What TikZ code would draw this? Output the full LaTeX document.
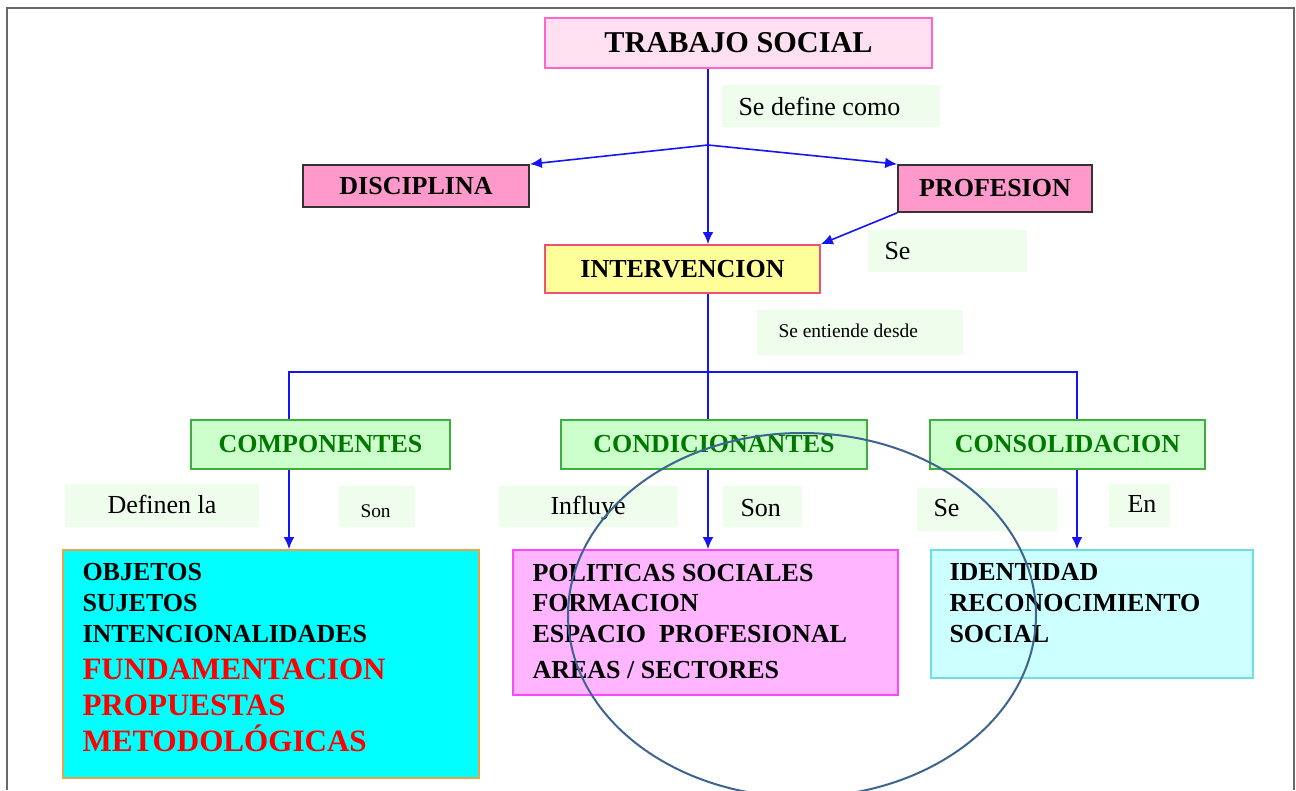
\documentclass[tikz,border=0pt]{standalone}
\usepackage{fontspec}
\setmainfont{Liberation Serif}
\usetikzlibrary{arrows.meta}

\definecolor{azul}{RGB}{20,20,245}
\definecolor{marcogris}{RGB}{105,105,105}
\definecolor{etiqfondo}{RGB}{238,253,236}
\definecolor{rosaclaro}{RGB}{255,224,240}
\definecolor{rosaborde}{RGB}{255,102,204}
\definecolor{rosa}{RGB}{255,153,204}
\definecolor{amarillo}{RGB}{255,255,153}
\definecolor{rojizo}{RGB}{240,80,120}
\definecolor{verdeclaro}{RGB}{204,255,204}
\definecolor{verdeborde}{RGB}{60,175,60}
\definecolor{verdetexto}{RGB}{0,120,0}
\definecolor{turquesa}{RGB}{0,255,255}
\definecolor{naranja}{RGB}{230,165,70}
\definecolor{magenta}{RGB}{255,181,255}
\definecolor{magentaborde}{RGB}{255,70,255}
\definecolor{celeste}{RGB}{204,255,255}
\definecolor{celesteborde}{RGB}{110,222,222}
\definecolor{rojotexto}{RGB}{255,0,0}
\definecolor{elipse}{RGB}{61,99,145}

\tikzset{every picture/.style={line width=0.75pt}}

\begin{document}
\begin{tikzpicture}[x=0.75pt,y=0.75pt,yscale=-1,xscale=1,
    caja/.style={inner sep=0.75pt, line width=1.3pt, font=\fontsize{19.5}{23}\selectfont\bfseries},
    lista/.style={anchor=base west, inner sep=0.75pt, align=left, font=\fontsize{19.5}{22.9}\selectfont\bfseries},
    etiq/.style={anchor=west, inner sep=0.75pt, font=\fontsize{19.5}{23}\selectfont},
    flecha/.style={draw=azul, line width=1.2pt, -{Latex[length=9pt,width=8pt]}},
    linea/.style={draw=azul, line width=1.2pt}]
    \useasboundingbox (0,0) rectangle (1296,790);

    %Straight Lines: frame
    \draw [marcogris, line width=1.5pt] (7,790) -- (7,8) -- (1294,8) -- (1294,790) ;

    %Shape: Rectangle (label backgrounds)
    \fill [etiqfondo] (722,85) rectangle (940,127) ;
    \fill [etiqfondo] (868,230) rectangle (1027,272) ;
    \fill [etiqfondo] (757,310) rectangle (963,355) ;
    \fill [etiqfondo] (65,484) rectangle (259,527) ;
    \fill [etiqfondo] (339,486) rectangle (415,527) ;
    \fill [etiqfondo] (499,486) rectangle (678,527) ;
    \fill [etiqfondo] (723,486) rectangle (802,527) ;
    \fill [etiqfondo] (917,488) rectangle (1057,531) ;
    \fill [etiqfondo] (1109,484) rectangle (1170,527) ;

    %Shape: Rectangle [TRABAJO SOCIAL]
    \node (trabajo) [caja, draw=rosaborde, fill=rosaclaro, minimum width=290.25pt, minimum height=37.5pt, font=\fontsize{22.7}{26}\selectfont\bfseries] at (738.5,43) {TRABAJO SOCIAL};
    %Shape: Rectangle [DISCIPLINA]
    \node (disciplina) [caja, draw=black!80, fill=rosa, minimum width=169.5pt, minimum height=31.5pt] at (416,186) {DISCIPLINA};
    %Shape: Rectangle [PROFESION]
    \node (profesion) [caja, draw=black!80, fill=rosa, minimum width=145.5pt, minimum height=35.25pt] at (995,188.5) {PROFESION};
    %Shape: Rectangle [INTERVENCION]
    \node (intervencion) [caja, draw=rojizo, fill=amarillo, minimum width=206.25pt, minimum height=36pt] at (682.5,269) {INTERVENCION};

    %Shape: Rectangle [green boxes]
    \node (componentes) [caja, draw=verdeborde, fill=verdeclaro, text=verdetexto, minimum width=194.25pt, minimum height=36.75pt] at (320.5,444.5) {COMPONENTES};
    \node (condicionantes) [caja, draw=verdeborde, fill=verdeclaro, text=verdetexto, minimum width=229.5pt, minimum height=36.75pt] at (714,444.5) {CONDICIONANTES};
    \node (consolidacion) [caja, draw=verdeborde, fill=verdeclaro, text=verdetexto, minimum width=206.25pt, minimum height=36.75pt] at (1067.5,444.5) {CONSOLIDACION};

    %Shape: Rectangle [lower boxes]
    \node (objetos) [caja, draw=naranja, fill=turquesa, minimum width=312pt, minimum height=171pt] at (271,664) {};
    \node (politicas) [caja, draw=magentaborde, fill=magenta, minimum width=288.75pt, minimum height=108.75pt] at (705.5,622.5) {};
    \node (identidad) [caja, draw=celesteborde, fill=celeste, minimum width=241.5pt, minimum height=96pt] at (1092,614) {};

    %Coordinates for branches
    \coordinate (split) at (708,145) ;
    \coordinate (bar) at (708,372) ;
    \coordinate (barL) at (289,372) ;
    \coordinate (barR) at (1077,372) ;

    %Straight Lines
    \draw [flecha] (trabajo.south -| split) -- (intervencion.north -| split) ;
    \draw [flecha] (split) -- (disciplina.north east) ;
    \draw [flecha] (split) -- (profesion.north west) ;
    \draw [flecha] (profesion.south west) -- (intervencion.north east) ;
    \draw [linea] (intervencion.south -| bar) -- (condicionantes.north -| bar) ;
    \draw [linea] (componentes.north -| barL) -- (barL) -- (barR) -- (consolidacion.north -| barR) ;
    \draw [flecha] (componentes.south -| barL) -- (objetos.north -| barL) ;
    \draw [flecha] (condicionantes.south -| bar) -- (politicas.north -| bar) ;
    \draw [flecha] (consolidacion.south -| barR) -- (identidad.north -| barR) ;

    % Text Node
    \node (tdefine) [etiq] at (737,106) {Se define como};
    % Text Node
    \node (tse) [etiq] at (883,251) {Se};
    % Text Node
    \node (tentiende) [etiq, font=\fontsize{14.6}{17}\selectfont] at (777,331) {Se entiende desde};
    % Text Node
    \node (tdefinen) [etiq] at (106,504) {Definen la};
    % Text Node
    \node (tsonA) [etiq, font=\fontsize{14.5}{17}\selectfont] at (359,511) {Son};
    % Text Node
    \node (tinfluye) [etiq] at (549,508) {Influye};
    % Text Node
    \node (tsonB) [etiq] at (739,508) {Son};
    % Text Node
    \node (tseB) [etiq] at (932,508) {Se};
    % Text Node
    \node (ten) [etiq] at (1126,504) {En};

    % Text Node (base = last line)
    \node (tobjetos) [lista] at (81,642) {OBJETOS\\SUJETOS\\INTENCIONALIDADES};
    % Text Node
    \node (tfund) [lista, text=rojotexto, font=\fontsize{23.3}{27}\selectfont\bfseries] at (81,751) {FUNDAMENTACION\\PROPUESTAS\\METODOLÓGICAS};
    % Text Node
    \node (tpoliticas) [lista] at (531,678) {POLITICAS SOCIALES\\FORMACION\\ESPACIO\ \ PROFESIONAL\\[4pt]AREAS / SECTORES};
    % Text Node
    \node (tidentidad) [lista] at (948,642) {IDENTIDAD\\RECONOCIMIENTO\\SOCIAL};

    %Shape: Ellipse
    \draw [elipse, line width=1.5pt] (802,615) ellipse [x radius=175.5pt, y radius=136.5pt] ;

\end{tikzpicture}
\end{document}
